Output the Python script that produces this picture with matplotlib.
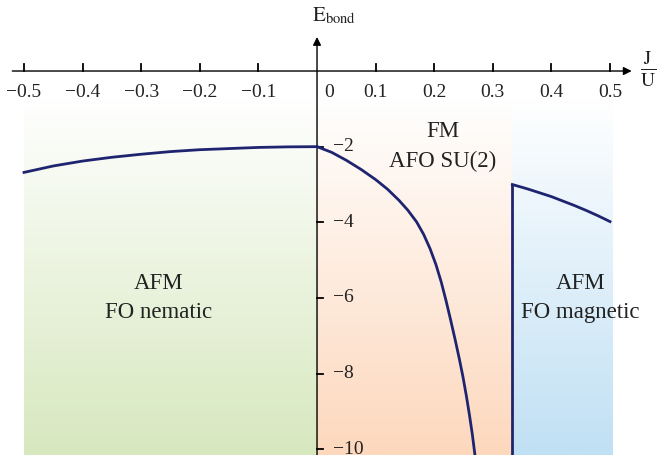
import numpy as np
import matplotlib
matplotlib.use("Agg")
import matplotlib.pyplot as plt
from matplotlib.colors import LinearSegmentedColormap

plt.rcParams['font.family'] = ['Liberation Serif', 'DejaVu Serif']
plt.rcParams['mathtext.fontset'] = 'stix'

# ---- data ----
# left branch: AFM / FO nematic
J_left = [-0.5, -0.45, -0.4, -0.35, -0.3, -0.25, -0.2, -0.15, -0.1, -0.05, 0.0]
E_left = [-2.68, -2.51, -2.38, -2.28, -2.2, -2.13, -2.08, -2.05, -2.02, -2.005, -2.0]

# middle branch: FM / AFO SU(2)
J_mid = [0.0, 0.025, 0.05, 0.075, 0.1, 0.12, 0.14, 0.155, 0.17, 0.182, 0.193,
         0.203, 0.212, 0.22, 0.228, 0.236, 0.243, 0.249, 0.255, 0.26, 0.265, 0.2695]
E_mid = [-2.0, -2.15, -2.36, -2.6, -2.87, -3.12, -3.42, -3.68, -3.99, -4.32, -4.7,
         -5.12, -5.58, -6.06, -6.58, -7.12, -7.62, -8.08, -8.6, -9.08, -9.6, -10.15]

# right branch: AFM / FO magnetic
J_right = [1/3, 0.36, 0.38, 0.4, 0.42, 0.44, 0.46, 0.48, 0.5]
E_right = [-3.0, -3.12, -3.22, -3.32, -3.44, -3.56, -3.69, -3.83, -3.98]

# phase regions (J start, J end, bottom colour, label)
reg_start = [-0.5, 0.0, 1/3]
reg_end = [0.0, 1/3, 0.505]
reg_colors = ['#d7e8bf', '#fdd8bd', '#c0e0f4']
reg_labels = ['AFM\nFO nematic', 'FM\nAFO SU(2)', 'AFM\nFO magnetic']
label_pos = [(-0.27, -6.0), (0.215, -2.0), (0.45, -6.0)]

xticks = [-0.5, -0.4, -0.3, -0.2, -0.1, 0.1, 0.2, 0.3, 0.4, 0.5]
yticks = [-2, -4, -6, -8, -10]

line_col = '#1f2470'

fig = plt.figure(figsize=(6.6, 4.55), dpi=100)
ax = fig.add_axes([0, 0, 1, 1])
ax.set_xlim(-0.541, 0.5853)
ax.set_ylim(-10.15, 1.877)
ax.axis('off')

# gradient backgrounds, white at the top to colour at the bottom
grad = np.linspace(0, 1, 256).reshape(-1, 1)
top_E = -0.7
for x0, x1, c in zip(reg_start, reg_end, reg_colors):
    cmap = LinearSegmentedColormap.from_list('g', ['#ffffff', c])
    ax.imshow(grad, cmap=cmap, extent=[x0, x1, -10.15, top_E], aspect='auto',
              origin='upper', zorder=0, interpolation='bilinear')

for (x, y), txt in zip(label_pos, reg_labels):
    ax.text(x, y, txt, ha='center', va='center', fontsize=16.5,
            color='#222222', linespacing=1.55, zorder=3)

# axes with arrows
ax.annotate('', xy=(0.537, 0), xytext=(-0.52, 0),
            arrowprops=dict(arrowstyle='-|>', color='black', lw=1.0,
                            mutation_scale=12, shrinkA=0, shrinkB=0), zorder=4)
ax.annotate('', xy=(0, 0.9), xytext=(0, -10.15),
            arrowprops=dict(arrowstyle='-|>', color='black', lw=1.0,
                            mutation_scale=12, shrinkA=0, shrinkB=0), zorder=4)

# ticks
for t in xticks:
    ax.plot([t, t], [0, 0.18], color='black', lw=1.3, zorder=4)
    ax.text(t, -0.58, str(t).replace('-', '\u2212'), ha='center', va='center',
            fontsize=14, color='#222222')
ax.text(0.02, -0.58, '0', ha='center', va='center', fontsize=14, color='#222222')
for t in yticks:
    ax.plot([0, 0.01], [t, t], color='black', lw=1.3, zorder=4)
    ax.text(0.027, t, '\u2212' + str(-t), ha='left', va='center',
            fontsize=14, color='#222222')

# axis labels
ax.text(0.565, 0.05, r'$\frac{\mathrm{J}}{\mathrm{U}}$', ha='center', va='center',
        fontsize=20, color='#222222')
ax.text(-0.009, 1.45, r'$\mathrm{E}_{\mathrm{bond}}$', ha='left', va='center',
        fontsize=15, color='#222222')

# curves
ax.plot(J_left, E_left, color=line_col, lw=2, zorder=5)
ax.plot(J_mid, E_mid, color=line_col, lw=2, zorder=5)
ax.plot(J_right, E_right, color=line_col, lw=2, zorder=5)
ax.plot([J_right[0], J_right[0]], [E_right[0], -10.15], color=line_col, lw=2, zorder=5)

fig.savefig('out.png', dpi=100)
